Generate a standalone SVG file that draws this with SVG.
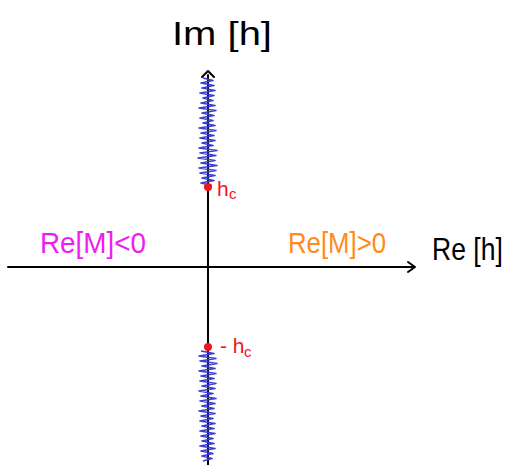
<svg xmlns="http://www.w3.org/2000/svg" width="509" height="465" viewBox="0 0 509 465">
<style>
.ax{stroke:#000;stroke-width:2;fill:none;stroke-linecap:round;stroke-linejoin:round}
.zz{stroke:#3b3fd0;stroke-width:1.6;fill:none;stroke-linejoin:round}
.t{font-family:"Liberation Sans",Arial,sans-serif}
.pt{fill:#f0141e}
</style>
<rect width="509" height="465" fill="#fff"/>
<g id="connectors">
<path class="ax" d="M8 267 L415 267 M408 262 L415 267 L408 272"/>
<path class="ax" d="M208 75 L208 465 M202 77 L208 71 L214 77"/>
</g>
<g id="cut-upper">
<polyline class="zz" points="203,78 213,80.5 201,83 214,85.5 202,88 215,90.5 200,93 214,95.5 203,98 213,100.5 201,103 215,105.5 199,108 216,110.5 202,113 214,115.5 200,118 213,120.5 203,123 215,125.5 199,128 216,130.5 201,133 214,135.5 200,138 215,140.5 202,143 213,145.5 199,148 217,150.5 200,153 216,155.5 198,158 215,160.5 201,163 217,165.5 199,168 216,170.5 200,173 215,175.5 202,178 214,180.5 201,183 212,185.5"/>
</g>
<g id="cut-lower">
<polyline class="zz" points="201,351 214,353.5 199,356 216,358.5 200,361 217,363.5 202,366 215,368.5 199,371 216,373.5 201,376 214,378.5 200,381 216,383.5 202,386 215,388.5 199,391 213,393.5 201,396 216,398.5 200,401 215,403.5 202,406 214,408.5 199,411 215,413.5 201,416 213,418.5 200,421 215,423.5 202,426 214,428.5 200,431 215,433.5 201,436 213,438.5 202,441 214,443.5 200,446 215,448.5 201,451 213,453.5 202,456 212,458.5 203,461"/>
</g>
<g id="hc">
<circle class="pt" cx="208" cy="187" r="4"/>
<text class="t" x="217" y="196" font-size="21" fill="#f0141e">h</text>
<text class="t" x="229" y="199" font-size="15" fill="#f0141e">c</text>
</g>
<g id="minus-hc">
<circle class="pt" cx="208" cy="347" r="4"/>
<text class="t" x="220" y="353" font-size="21" fill="#f0141e">- h</text>
<text class="t" x="244" y="357" font-size="15" fill="#f0141e">c</text>
</g>
<g id="im-label">
<text class="t" x="172" y="45" font-size="34" textLength="100" lengthAdjust="spacingAndGlyphs">Im [h]</text>
</g>
<g id="re-label">
<text class="t" transform="translate(432,260) scale(0.83,1)" x="0" y="0" font-size="32">Re [h]</text>
</g>
<g id="left-region">
<text class="t" x="40" y="253" font-size="30" fill="#f01cf0" textLength="106" lengthAdjust="spacingAndGlyphs">Re[M]&lt;0</text>
</g>
<g id="right-region">
<text class="t" x="288" y="253" font-size="30" fill="#ff8c1a" textLength="98" lengthAdjust="spacingAndGlyphs">Re[M]&gt;0</text>
</g>
</svg>
